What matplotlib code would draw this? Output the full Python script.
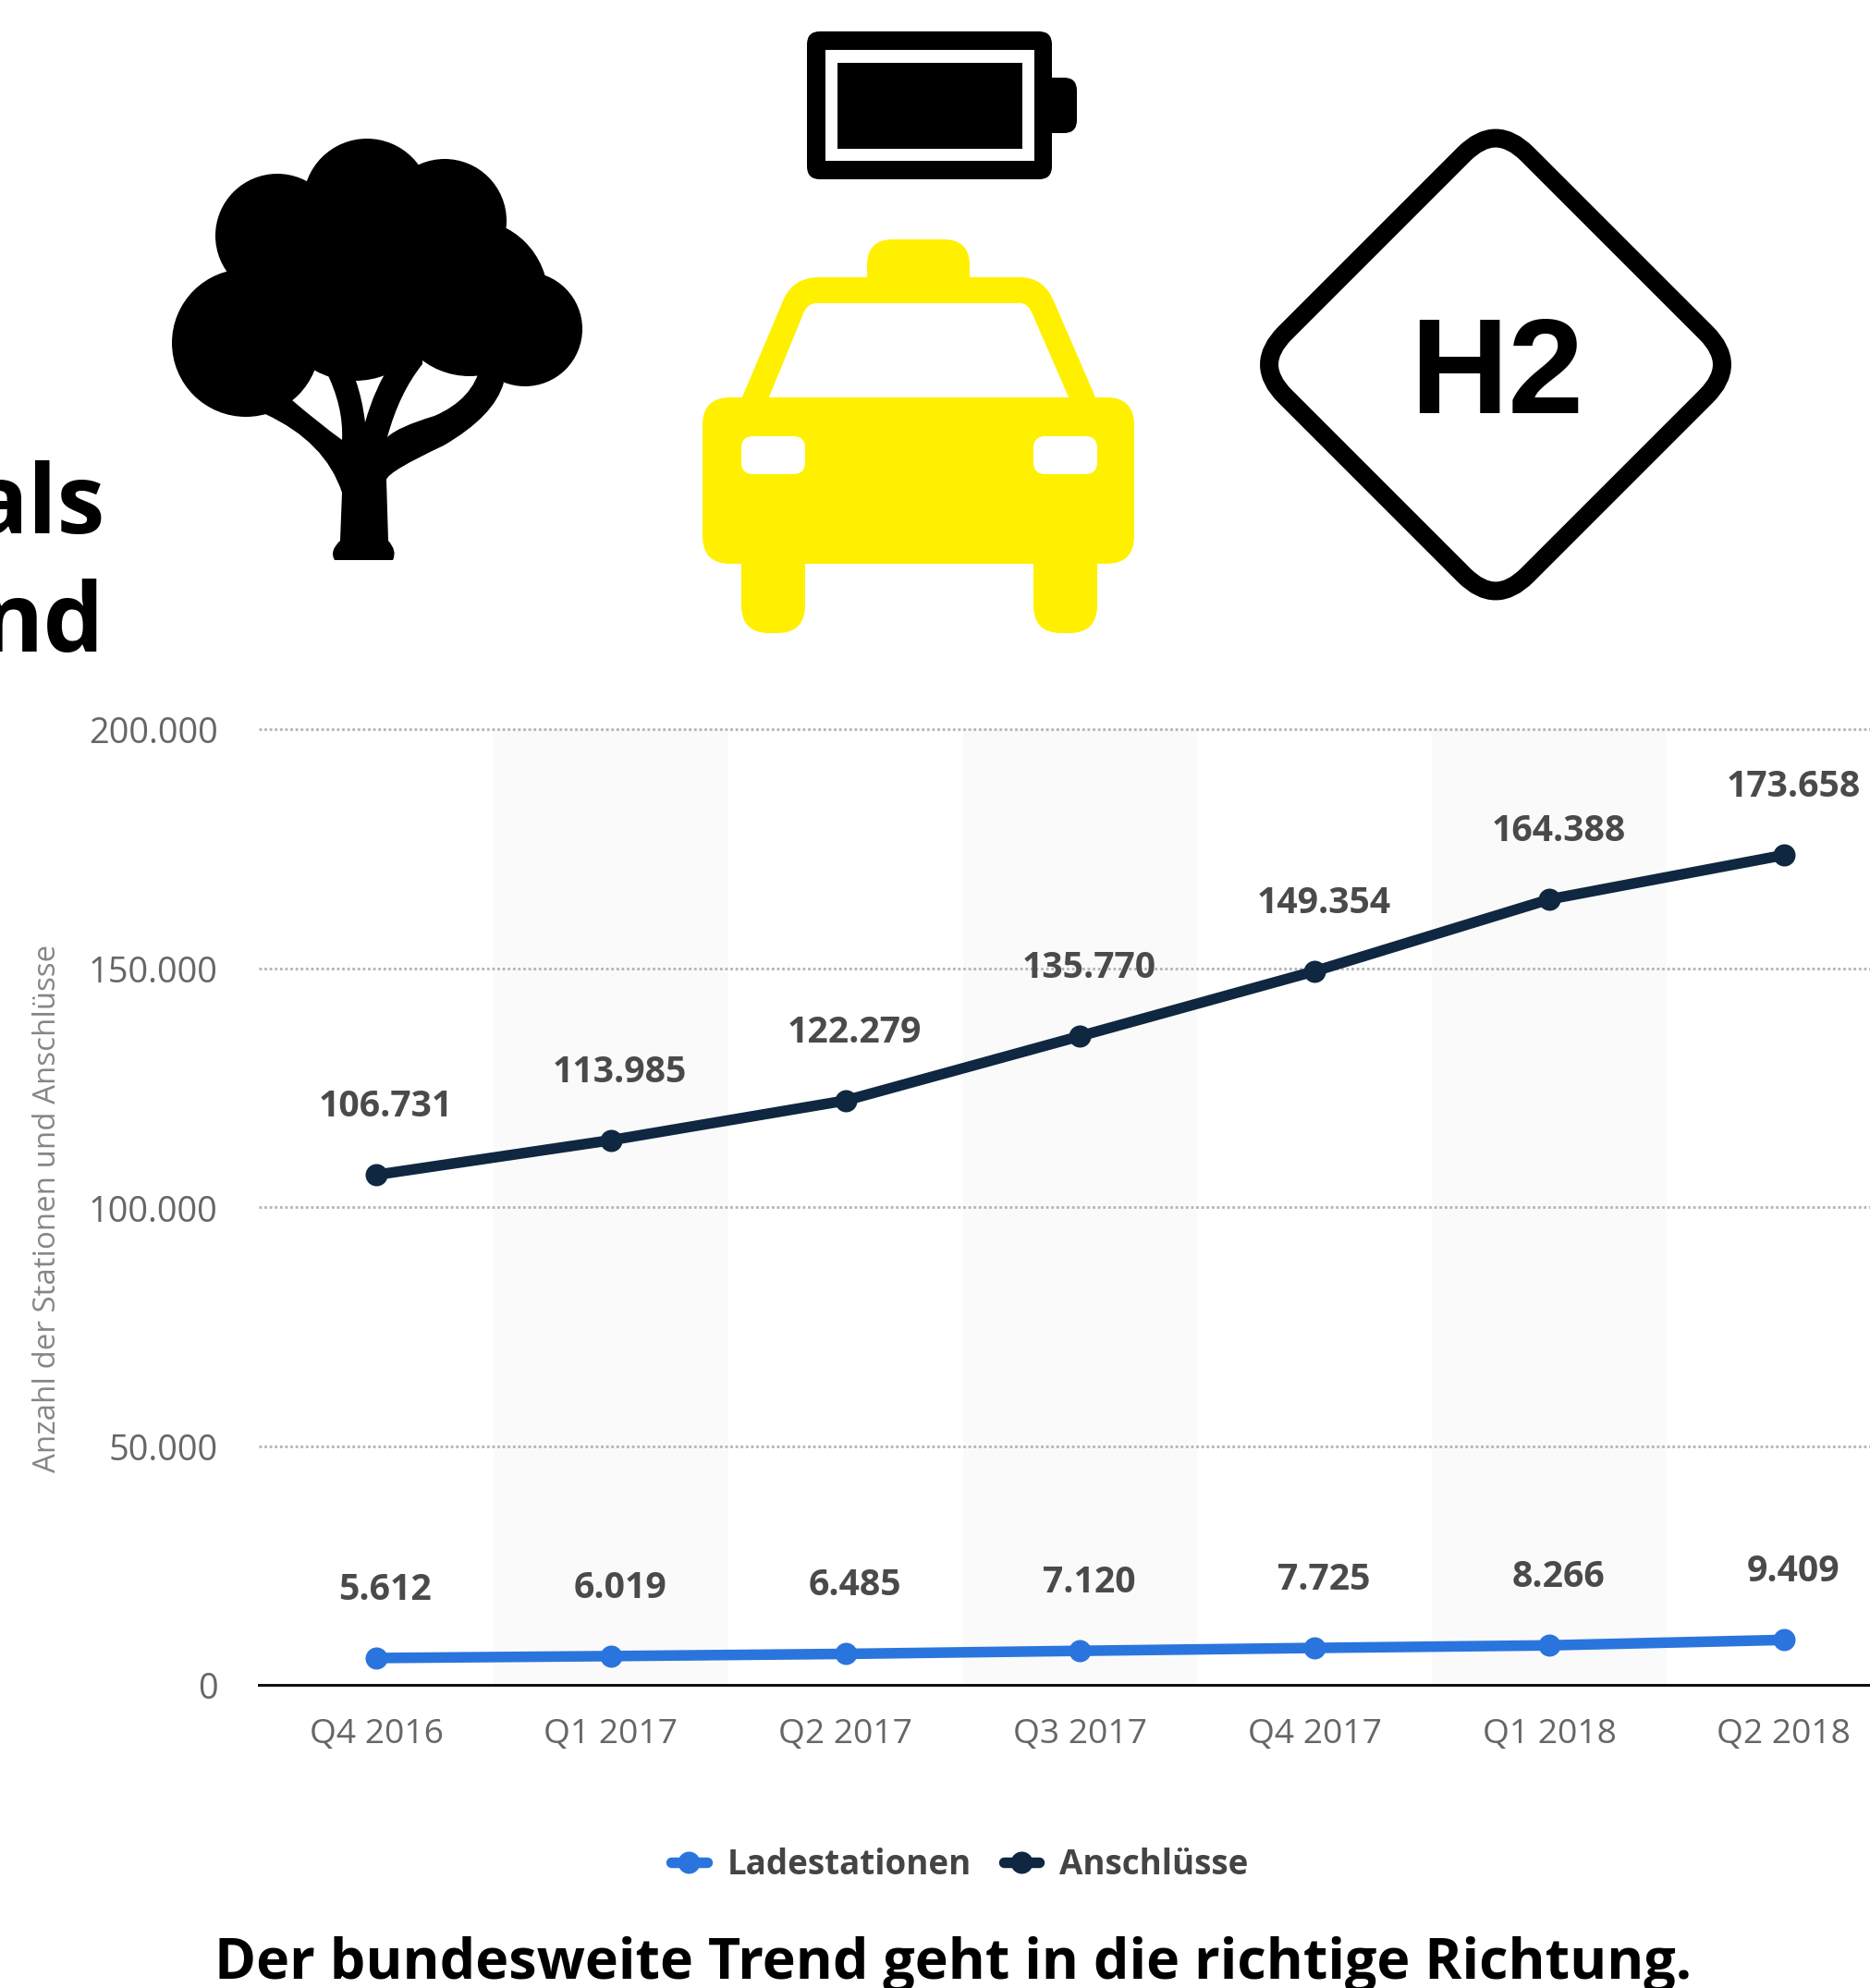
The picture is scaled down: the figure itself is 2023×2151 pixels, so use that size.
import matplotlib
matplotlib.use("Agg")
import matplotlib.pyplot as plt
from matplotlib.patches import FancyBboxPatch, Circle, PathPatch, Rectangle
from matplotlib.path import Path
from matplotlib.transforms import ScaledTranslation

quarters = ["Q4 2016", "Q1 2017", "Q2 2017", "Q3 2017", "Q4 2017", "Q1 2018", "Q2 2018"]
ladestationen = [5612, 6019, 6485, 7120, 7725, 8266, 9409]
anschluesse = [106731, 113985, 122279, 135770, 149354, 164388, 173658]
y_ticks = [0, 50000, 100000, 150000, 200000]
series_names = ["Ladestationen", "Anschlüsse"]
title = "Der bundesweite Trend geht in die richtige Richtung."
y_title = "Anzahl der Stationen und Anschlüsse"

W, H = 2024, 2151
FONT = "Open Sans"
plt.rcParams["font.family"] = [FONT, "DejaVu Sans"]
BLUE, NAVY = "#2a75dd", "#0f2740"
PX = 0.72  # points per pixel at dpi 100


def de(v):
    return f"{v:,}".replace(",", ".")


fig = plt.figure(figsize=(W / 100, H / 100), dpi=100, facecolor="white")

# ---------------- chart ----------------
X0, STEP = 407.0, 253.8
AX_L, AX_T, AX_B = 280, 789, 1823
ax = fig.add_axes([AX_L / W, 1 - AX_B / H, (W - AX_L) / W, (AX_B - AX_T) / H])
ax.set_xlim((AX_L - X0) / STEP, (W - X0) / STEP)
ax.set_ylim(0, 200000)
for s in ("top", "left", "right"):
    ax.spines[s].set_visible(False)
ax.spines["bottom"].set_linewidth(3 * PX)
ax.spines["bottom"].set_color("#111111")
ax.set_axisbelow(True)
ax.yaxis.grid(True, linestyle=(0, (1, 1)), color="#b4b4b4", linewidth=2.8 * PX, clip_on=False)
for i in range(1, len(quarters), 2):
    ax.axvspan(i - 0.5, i + 0.5, color="#fafafa", lw=0, zorder=0)

xs = list(range(len(quarters)))
for vals, col, name in zip((ladestationen, anschluesse), (BLUE, NAVY), series_names):
    ax.plot(xs, vals, color=col, lw=11.5 * PX, marker="o", ms=24 * PX, mew=0, label=name,
            solid_capstyle="round", zorder=3, clip_on=False)
    for x, v in zip(xs, vals):
        ax.annotate(de(v), (x, v), xytext=(10 * PX, 63 * PX), textcoords="offset points",
                    ha="center", va="baseline", fontsize=28.2, fontweight="bold", color="#4a4a4a",
                    zorder=4)

ax.set_xticks(xs, quarters)
ax.set_yticks(y_ticks, [de(v) for v in y_ticks])
ax.tick_params(axis="x", length=0, pad=26, labelsize=26.8, labelcolor="#666666")
ax.tick_params(axis="y", length=0, pad=32, labelsize=27.3, labelcolor="#666666")
shift = ScaledTranslation(0, -5.5 / 100, fig.dpi_scale_trans)
for t in ax.get_yticklabels():
    t.set_verticalalignment("center")
    t.set_transform(t.get_transform() + shift)

leg = ax.legend(loc="center left", bbox_to_anchor=(726 / W, 1 - 2018 / H),
                bbox_transform=fig.transFigure, ncol=2, frameon=False,
                prop={"size": 26.5, "weight": "bold"}, labelcolor="#444444",
                handlelength=1.05, handletextpad=0.59, columnspacing=0.95,
                borderpad=0, borderaxespad=0)

# ---------------- overlay in pixel coordinates ----------------
ov = fig.add_axes([0, 0, 1, 1], facecolor="none")
ov.set_xlim(0, W)
ov.set_ylim(H, 0)
ov.axis("off")

ov.text(68, 1307, y_title, rotation=90, ha="right", va="center", fontsize=23.8, color="#868686")

ov.text(1031, 2141, title, ha="center", va="baseline", fontsize=43.9, fontweight="bold", color="black")
ov.text(114, 577, "als", ha="right", va="baseline", fontsize=75, fontweight="bold", color="black")
ov.text(113, 705, "nd", ha="right", va="baseline", fontsize=75, fontweight="bold", color="black")


def rrect(x0, y0, x1, y1, r, col, z=5):
    ov.add_patch(FancyBboxPatch((x0, y0), x1 - x0, y1 - y0, boxstyle=f"round,pad=0,rounding_size={r}",
                                fc=col, ec="none", lw=0, zorder=z))


def curve_path(cmds, col, z=5):
    verts, codes = [], []
    for c in cmds:
        if len(c) == 2:
            verts.append(c)
            codes.append(Path.LINETO if verts[:-1] else Path.MOVETO)
        elif len(c) == 4:
            verts += [c[:2], c[2:]]
            codes += [Path.CURVE3, Path.CURVE3]
    verts.append(verts[0])
    codes.append(Path.CLOSEPOLY)
    ov.add_patch(PathPatch(Path(verts, codes), fc=col, ec="none", lw=0, zorder=z))


# battery
rrect(873, 34, 1138, 194, 14, "black")
ov.add_patch(Rectangle((893, 54), 226, 120, fc="white", ec="none", zorder=6))
ov.add_patch(Rectangle((906, 68), 200, 93, fc="black", ec="none", zorder=7))
rrect(1125, 84, 1165, 144, 14, "black")

# taxi
YEL = "#fff000"
rrect(938, 259, 1049, 330, 28, YEL)
curve_path([(802, 432), (846, 328), (856, 300, 886, 300), (1104, 300), (1130, 300, 1141, 328), (1186, 432)], YEL)
curve_path([(831, 432), (868, 342), (872, 328, 884, 328), (1104, 328), (1112, 328, 1117, 340), (1157, 432)], "white", 6)
rrect(760, 430, 1227, 610, 30, YEL, 7)
rrect(802, 560, 871, 685, 30, YEL, 7)
rrect(1118, 560, 1187, 685, 30, YEL, 7)
rrect(802, 472, 871, 513, 13, "white", 8)
rrect(1118, 472, 1187, 513, 13, "white", 8)

# hydrogen sign
cx, cy, D, f = 1618, 394.5, 262, 0.13
pts = [(cx, cy - D), (cx + D, cy), (cx, cy + D), (cx - D, cy)]
v, c = [], []
for i, p in enumerate(pts):
    a, b = pts[i - 1], pts[(i + 1) % 4]
    s = (p[0] + f * (a[0] - p[0]), p[1] + f * (a[1] - p[1]))
    e = (p[0] + f * (b[0] - p[0]), p[1] + f * (b[1] - p[1]))
    v += [s, p, e]
    c += [Path.MOVETO if i == 0 else Path.LINETO, Path.CURVE3, Path.CURVE3]
v.append(v[0])
c.append(Path.CLOSEPOLY)
ov.add_patch(PathPatch(Path(v, c), fc="none", ec="black", lw=20 * PX, zorder=5, joinstyle="round"))
ov.text(1619, 447, "H2", ha="center", va="baseline", fontsize=106, fontweight="bold",
        family="Liberation Sans", color="black", zorder=6)

# tree
curve_path([(362, 606), (356, 596, 368, 585), (370, 533), (352, 478, 287, 448), (320, 380), (520, 380), (545, 414),
            (535, 450, 480, 482), (420, 510, 418, 519), (420, 585), (430, 596, 425, 606)], "black")
curve_path([(316, 433), (330, 400), (352, 400), (372, 440, 370, 476), (345, 458, 316, 433)], "white", 6)
curve_path([(385, 400), (425, 390), (405, 420, 395, 457), (392, 432, 385, 412)], "white", 6)
curve_path([(457, 390), (520, 395), (512, 432, 470, 450), (430, 462, 419, 473), (432, 425, 457, 394)], "white", 6)
for (x, y, r) in [(266, 371, 80), (300, 255, 67), (397, 219, 69), (481, 239, 67), (568, 356, 62),
                  (508, 322, 85), (384, 322, 90), (400, 260, 80)]:
    ov.add_patch(Circle((x, y), r, fc="black", ec="none", zorder=7))

fig.savefig("out.png", dpi=100)
